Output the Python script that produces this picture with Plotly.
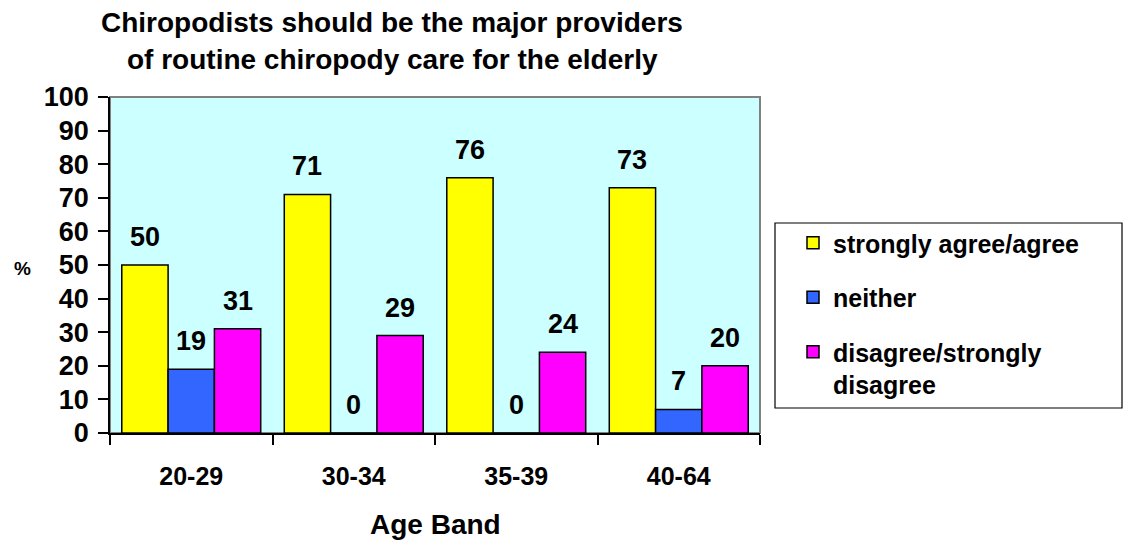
import plotly.graph_objects as go

# Survey responses by age band (percent)
age_bands = ["20-29", "30-34", "35-39", "40-64"]
agree = [50, 71, 76, 73]
neither = [19, 0, 0, 7]
disagree = [31, 29, 24, 20]

series_names = ["strongly agree/agree", "neither", "disagree/strongly<br>disagree"]
series_colors = ["#FFFF00", "#3366FF", "#FF00FF"]
series_values = [agree, neither, disagree]

y_ticks = list(range(0, 101, 10))

FONT = "Liberation Sans, Arial, sans-serif"

# plot area in pixels
W, H = 1129, 548
L, R, T, B = 110, 760, 97, 433


def px_x(p):
    return (p - L) / (R - L)


def px_y(p):
    return 1 - (p - T) / (B - T)


bargap = 0.145
bar_w = (1 - bargap) / 3

fig = go.Figure()
for i, (name, color, vals) in enumerate(zip(series_names, series_colors, series_values)):
    fig.add_trace(go.Bar(
        x=age_bands, y=vals, name=name,
        marker=dict(color=color, line=dict(color="black", width=1.5)),
        legendgroup=f"g{i}",
    ))

annotations = []
# value labels above each bar
for i, vals in enumerate(series_values):
    off = (i - 1) * bar_w
    for j, v in enumerate(vals):
        annotations.append(dict(
            x=j + off, y=v, xref="x", yref="y", text=f"<b>{v}</b>",
            showarrow=False, yanchor="bottom", yshift=11,
            font=dict(family=FONT, size=27, color="black"),
        ))

# chart title (two lines)
annotations.append(dict(
    x=px_x(392), y=px_y(23), xref="paper", yref="paper",
    text="<b>Chiropodists should be the major providers</b>", showarrow=False,
    xanchor="center", yanchor="middle",
    font=dict(family=FONT, size=28, color="black"),
))
annotations.append(dict(
    x=px_x(392), y=px_y(60), xref="paper", yref="paper",
    text="<b>of routine chiropody care for the elderly</b>", showarrow=False,
    xanchor="center", yanchor="middle",
    font=dict(family=FONT, size=28, color="black"),
))
# axis titles
annotations.append(dict(
    x=0.5, y=px_y(524), xref="paper", yref="paper",
    text="<b>Age Band</b>", showarrow=False, xanchor="center", yanchor="middle",
    font=dict(family=FONT, size=28, color="black"),
))
annotations.append(dict(
    x=px_x(22), y=px_y(268), xref="paper", yref="paper",
    text="<b>%</b>", showarrow=False, xanchor="center", yanchor="middle",
    font=dict(family=FONT, size=19, color="black"),
))

shapes = [
    # grey frame round the plot area
    dict(type="rect", xref="paper", yref="paper", x0=0, x1=1, y0=0, y1=1,
         line=dict(color="#808080", width=2), layer="below"),
    # legend box
    dict(type="rect", xref="paper", yref="paper",
         x0=px_x(775), x1=px_x(1122), y0=px_y(408), y1=px_y(223),
         line=dict(color="black", width=1.2)),
]

fig.update_layout(
    width=W, height=H,
    margin=dict(l=L, r=W - R, t=T, b=H - B, pad=0),
    paper_bgcolor="white", plot_bgcolor="#CCFFFF",
    barmode="group", bargap=bargap, bargroupgap=0,
    showlegend=True,
    legend=dict(
        x=px_x(793), y=px_y(220), xanchor="left", yanchor="top",
        bgcolor="rgba(0,0,0,0)", borderwidth=0,
        font=dict(family=FONT, size=25, color="black", weight="bold"),
        tracegroupgap=19, valign="top", traceorder="grouped",
    ),
    annotations=annotations, shapes=shapes,
    font=dict(family=FONT, color="black"),
)
fig.update_xaxes(
    showline=True, linecolor="black", linewidth=1.5,
    ticks="outside", ticklen=10, tickcolor="black", tickwidth=1.5,
    tickson="boundaries", showgrid=False, zeroline=False,
    tickfont=dict(family=FONT, size=25, color="black", weight="bold"),
    ticklabelstandoff=20,
)
fig.update_yaxes(
    range=[0, 100], tickvals=y_ticks,
    showline=True, linecolor="black", linewidth=1.5,
    ticks="outside", ticklen=10, tickcolor="black", tickwidth=1.5,
    showgrid=False, zeroline=False,
    tickfont=dict(family=FONT, size=27, color="black", weight="bold"),
    ticklabelstandoff=4,
)

fig.write_html("out.html")
